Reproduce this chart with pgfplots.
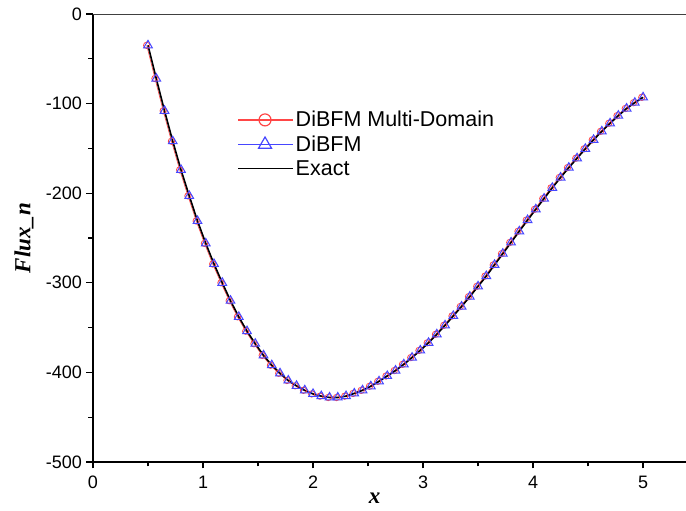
\documentclass[border=0pt]{standalone}
\usepackage{pgfplots}
\pgfplotsset{compat=1.18}
\usepackage{pgfplotstable}
\usepackage{fontspec}
\setmainfont{Liberation Sans}
\newfontfamily\timesfont{Liberation Serif}
\definecolor{myred}{RGB}{255,70,70}
\definecolor{myblue}{RGB}{70,70,255}

\pgfplotstableread{
x y
0.500 -35
0.575 -72
0.650 -108
0.725 -142
0.800 -174
0.875 -203
0.950 -231
1.025 -256
1.100 -279
1.175 -300
1.250 -320
1.325 -338
1.400 -354
1.475 -368
1.550 -381
1.625 -392
1.700 -401
1.775 -409
1.850 -415
1.925 -420
2.000 -424
2.075 -426.5
2.150 -428
2.225 -428
2.300 -426.5
2.375 -423.5
2.450 -420
2.525 -415.5
2.600 -410
2.675 -404
2.750 -398
2.825 -391
2.900 -383.5
2.975 -375.5
3.050 -367
3.125 -357.5
3.200 -347.5
3.275 -337
3.350 -326.5
3.425 -315.5
3.500 -304
3.575 -292.5
3.650 -280
3.725 -267.5
3.800 -255
3.875 -242.5
3.950 -230
4.025 -218
4.100 -206
4.175 -194
4.250 -182.5
4.325 -171.5
4.400 -161
4.475 -150.5
4.550 -140.5
4.625 -131
4.700 -122
4.775 -113.5
4.850 -105.5
4.925 -99
5.000 -93
}\dataTri

\pgfplotstableread{
x y
0.488 -35
0.563 -72
0.638 -108
0.713 -142
0.788 -174
0.863 -203
0.938 -231
1.013 -256
1.088 -279
1.163 -300
1.238 -320
1.313 -338
1.388 -354
1.463 -368
1.538 -381
1.613 -392
1.688 -401
1.763 -409
1.838 -415
1.913 -420
1.988 -424
2.063 -426.5
2.138 -428
2.213 -428
2.288 -426.5
2.363 -423.5
2.438 -420
2.513 -415.5
2.588 -410
2.663 -404
2.738 -398
2.813 -391
2.888 -383.5
2.963 -375.5
3.038 -367
3.113 -357.5
3.188 -347.5
3.263 -337
3.338 -326.5
3.413 -315.5
3.488 -304
3.563 -292.5
3.638 -280
3.713 -267.5
3.788 -255
3.863 -242.5
3.938 -230
4.013 -218
4.088 -206
4.163 -194
4.238 -182.5
4.313 -171.5
4.388 -161
4.463 -150.5
4.538 -140.5
4.613 -131
4.688 -122
4.763 -113.5
4.838 -105.5
4.913 -99
4.988 -93
}\dataCirc

\begin{document}
\begin{tikzpicture}
\begin{axis}[
  name=ax,
  scale only axis,
  width=593pt, height=448pt,
  xmin=0, xmax=5.39, ymin=-500, ymax=0,
  axis x line*=bottom, axis y line*=left,
  axis line style={line width=1.8pt, black},
  xtick={0,1,2,3,4,5},
  xticklabels={0,1,2,3,4,5},
  minor xtick={0.5,1.5,2.5,3.5,4.5},
  ytick={-500,-400,-300,-200,-100,0},
  yticklabels={-500,-400,-300,-200,-100,0},
  minor ytick={-450,-350,-250,-150,-50},
  tick align=outside,
  major tick length=6.5pt, minor tick length=4.5pt,
  every tick/.style={black, line width=1.3pt},
  ticklabel style={font=\fontsize{18}{21}\selectfont},
  xticklabel style={yshift=-4pt},
  yticklabel style={xshift=-1pt},
  xlabel={\fontsize{23}{27}\selectfont\timesfont\bfseries\itshape x},
  xlabel style={at={(rel axis cs:0.475,0)}, anchor=center, yshift=-36pt},
  ylabel={\fontsize{23}{27}\selectfont\timesfont\bfseries\itshape Flux\_n},
  ylabel style={at={(rel axis cs:-0.1164,0.5)}, anchor=center},
  legend style={draw=none, fill=none, at={(rel axis cs:0.238,0.792)}, anchor=north west,
    font=\fontsize{21.5}{25}\selectfont, row sep=3.5pt},
  legend cell align=left,
]
\addplot[myred, line width=0.6pt, mark=o, mark size=3.2pt, mark options={solid, line width=0.8pt, fill=none},
  legend image code/.code={\draw[myred, line width=1.2pt, mark repeat=2, mark phase=2, mark size=6pt, mark options={fill=white}] plot coordinates {(0pt,0pt) (27pt,0pt) (55pt,0pt)};}]
  table[x=x, y=y] {\dataCirc};
\addlegendentry{DiBFM Multi-Domain}
\addplot[myblue, line width=0.6pt, mark=triangle, mark size=5pt, mark options={solid, line width=1pt, fill=none},
  legend image code/.code={\draw[myblue, line width=1.2pt, mark repeat=2, mark phase=2, mark size=7.5pt, mark options={fill=white}] plot coordinates {(0pt,0pt) (27pt,0pt) (55pt,0pt)};}]
  table[x=x, y=y] {\dataTri};
\addlegendentry{DiBFM}
\addplot[black, line width=1.6pt, no marks,
  legend image code/.code={\draw[black, line width=1.4pt] (0pt,0pt) -- (55pt,0pt);}]
  table[x=x, y=y] {\dataTri};
\addlegendentry{Exact}
\end{axis}
\draw[black!75, line width=0.9pt] (ax.north west) -- (ax.north east);
\pgfresetboundingbox
\path ([xshift=-93pt, yshift=-49pt]ax.south west) rectangle ([yshift=14pt]ax.north east);
\end{tikzpicture}
\end{document}
